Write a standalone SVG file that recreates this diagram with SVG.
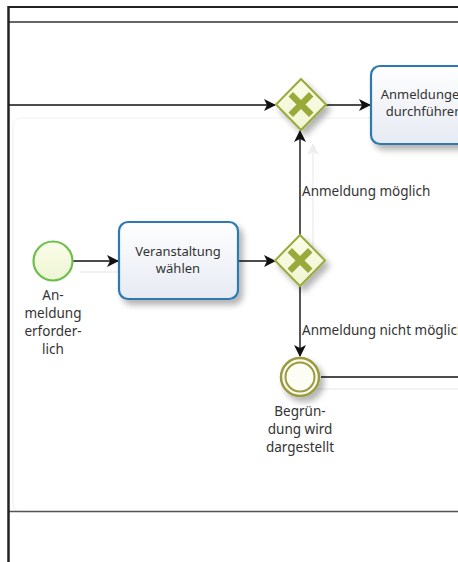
<svg xmlns="http://www.w3.org/2000/svg" width="458" height="562" viewBox="0 0 458 562">
<style>
.lbl{font-family:"Noto Sans","DejaVu Sans",sans-serif;font-size:13.5px;fill:#333}
.tl{font-family:"Noto Sans","DejaVu Sans",sans-serif;font-size:13px;fill:#333;text-anchor:middle}
.mid{text-anchor:middle}
.flow{stroke:#111;stroke-width:1.4;fill:none}
.ghost{stroke:#eeeeee;stroke-width:1.4;fill:none}
.task{fill:url(#tg);stroke:#2d7ab0;stroke-width:2.2}
.gw{fill:url(#gg);stroke:#9aaa3a;stroke-width:2}
.gx{fill:#9aaa3a}
</style>
<defs>
<linearGradient id="tg" x1="0" y1="0" x2="0" y2="1"><stop offset="0" stop-color="#ffffff"/><stop offset="1" stop-color="#e6eaf3"/></linearGradient>
<linearGradient id="gg" x1="0" y1="0" x2="0" y2="1"><stop offset="0" stop-color="#fbfde8"/><stop offset="1" stop-color="#f1f5d2"/></linearGradient>
<linearGradient id="sg" x1="0" y1="0" x2="0" y2="1"><stop offset="0" stop-color="#fafde9"/><stop offset="1" stop-color="#eef5d4"/></linearGradient>
<filter id="sh" x="-30%" y="-30%" width="170%" height="170%"><feGaussianBlur in="SourceAlpha" stdDeviation="3"/><feOffset dx="4" dy="5"/><feComponentTransfer><feFuncA type="linear" slope="0.3"/></feComponentTransfer><feMerge><feMergeNode/><feMergeNode in="SourceGraphic"/></feMerge></filter>
<marker id="ah" markerWidth="12" markerHeight="12" refX="11" refY="6" orient="auto" markerUnits="userSpaceOnUse"><path d="M0,0 L12,6 L0,12 L3,6 Z" fill="#111"/></marker>
<marker id="ahg" markerWidth="12" markerHeight="12" refX="11" refY="6" orient="auto" markerUnits="userSpaceOnUse"><path d="M0,0 L12,6 L0,12 L3,6 Z" fill="#eeeeee"/></marker>
</defs>
<rect width="458" height="562" fill="#fff"/>
<g id="pool">
<rect x="13" y="118" width="460" height="394" rx="7" fill="none" stroke="#f2f2f2" stroke-width="1.2"/>
<line x1="8" y1="7" x2="458" y2="7" stroke="#222" stroke-width="2"/>
<line x1="8" y1="22" x2="458" y2="22" stroke="#333" stroke-width="1.5"/>
<line x1="8" y1="511.5" x2="458" y2="511.5" stroke="#555" stroke-width="1.5"/>
<line x1="8.5" y1="6" x2="8.5" y2="562" stroke="#222" stroke-width="2.5"/>
</g>
<g id="ghosts">
<line class="ghost" x1="80" y1="272" x2="118" y2="272"/>
<line class="ghost" x1="313" y1="262" x2="313" y2="144" marker-end="url(#ahg)"/>
<line class="ghost" x1="318" y1="389" x2="458" y2="389"/>
</g>
<g id="connectors">
<line class="flow" x1="9" y1="105" x2="275" y2="105" marker-end="url(#ah)"/>
<line class="flow" x1="326" y1="105" x2="370" y2="105" marker-end="url(#ah)"/>
<line class="flow" x1="73" y1="261" x2="118" y2="261" marker-end="url(#ah)"/>
<line class="flow" x1="238" y1="261" x2="275" y2="261" marker-end="url(#ah)"/>
<line class="flow" x1="300" y1="235" x2="300" y2="131" marker-end="url(#ah)"/>
<line class="flow" x1="300" y1="286" x2="300" y2="356" marker-end="url(#ah)"/>
<line class="flow" x1="321" y1="377" x2="458" y2="377"/>
<text class="lbl" x="302" y="196">Anmeldung möglich</text>
<text class="lbl" x="302" y="335">Anmeldung nicht möglich</text>
</g>
<g id="start">
<circle cx="53" cy="261" r="19.5" fill="url(#sg)" stroke="#6cbf4a" stroke-width="2.2"/>
<text class="lbl mid" x="53" y="300">An-</text>
<text class="lbl mid" x="53" y="318">meldung</text>
<text class="lbl mid" x="53" y="336">erforder-</text>
<text class="lbl mid" x="53" y="354">lich</text>
</g>
<g id="task1">
<rect class="task" x="119" y="222" width="119" height="77" rx="9" filter="url(#sh)"/>
<text class="tl" x="178" y="256">Veranstaltung</text>
<text class="tl" x="178" y="273">wählen</text>
</g>
<g id="task2">
<rect class="task" x="371" y="66" width="106" height="78" rx="9" filter="url(#sh)"/>
<text class="tl" x="424" y="99">Anmeldungen</text>
<text class="tl" x="424" y="116">durchführen</text>
</g>
<g id="gw1">
<path class="gw" d="M301,79 L326,104.5 L301,130 L276,104.5 Z" filter="url(#sh)"/>
<path class="gx" d="M293,92 L301,100 L309,92 L313.5,96.5 L305.5,104.5 L313.5,112.5 L309,117 L301,109 L293,117 L288.5,112.5 L296.5,104.5 L288.5,96.5 Z"/>
</g>
<g id="gw2">
<path class="gw" d="M300,235 L325,260.5 L300,286 L275,260.5 Z" filter="url(#sh)"/>
<path class="gx" d="M292,248 L300,256 L308,248 L312.5,252.5 L304.5,260.5 L312.5,268.5 L308,273 L300,265 L292,273 L287.5,268.5 L295.5,260.5 L287.5,252.5 Z"/>
</g>
<g id="end">
<circle cx="300" cy="377" r="19" fill="#fbfbee" stroke="#9a9a40" stroke-width="2.5" filter="url(#sh)"/>
<circle cx="300" cy="377" r="14.5" fill="#fdfdf6" stroke="#9a9a40" stroke-width="2"/>
<text class="lbl mid" x="300" y="416">Begrün-</text>
<text class="lbl mid" x="300" y="434">dung wird</text>
<text class="lbl mid" x="300" y="452">dargestellt</text>
</g>
</svg>
